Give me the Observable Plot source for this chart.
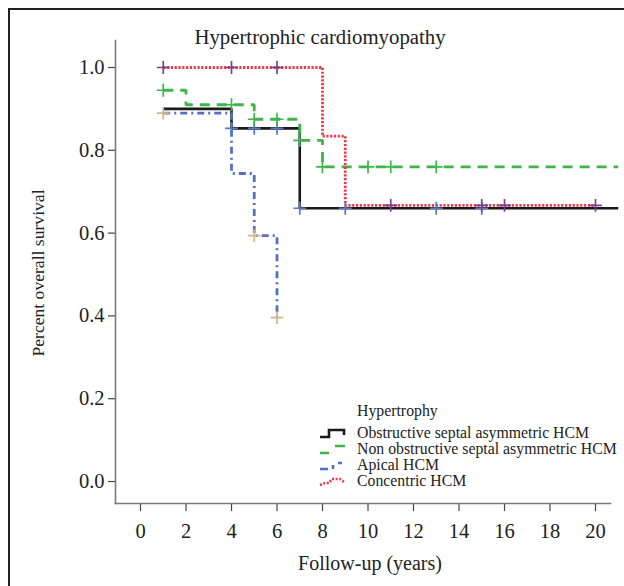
<!DOCTYPE html>
<html>
<head>
<meta charset="utf-8">
<script src="https://cdn.jsdelivr.net/npm/d3@7"></script>
<script src="https://cdn.jsdelivr.net/npm/@observablehq/plot@0.6"></script>
<style>
  html, body { margin: 0; padding: 0; background: #fff; overflow: hidden; }
  #wrap { position: relative; width: 624px; height: 586px; font-family: "Liberation Serif", serif; color: #222; }
  #frame { position: absolute; left: 8px; top: 8px; width: 800px; height: 800px; border-left: 2px solid #222; border-top: 2px solid #222; }
  #chart { position: absolute; left: 0; top: 0; }
  #chart svg g[aria-label$="tick label"] { font-size: 20.5px !important; }
  #legend { position: absolute; left: 319px; top: 403px; font-size: 15.8px; line-height: 16px; }
  #legend .ttl { margin-left: 38px; margin-bottom: 6px; }
  #legend .row { display: flex; align-items: center; height: 16px; }
  #legend svg { width: 30px; height: 12px; margin-right: 8px; }
</style>
</head>
<body>
<div id="wrap">
  <div id="frame"></div>
  <div id="chart"></div>
  <div id="legend"></div>
</div>
<script>
// ---- data ----
const groups = ["Obstructive septal asymmetric HCM", "Non obstructive septal asymmetric HCM", "Apical HCM", "Concentric HCM"];
const colors = ["#1a1a1a", "#3db54a", "#5470c0", "#ee3a48"];
const dashes = ["none", "10,7", "7,4,2,4", "2.2,1.6"];

const obstructiveTime = [1, 4, 7, 21];
const obstructiveSurv = [0.90, 0.853, 0.66, 0.66];
const nonObstructiveTime = [1, 2, 5, 7, 8, 21];
const nonObstructiveSurv = [0.945, 0.91, 0.875, 0.824, 0.76, 0.76];
const apicalTime = [1, 4, 5, 6];
const apicalSurv = [0.89, 0.744, 0.594, 0.396];
const concentricTime = [1, 8, 9, 20];
const concentricSurv = [1.0, 0.834, 0.667, 0.667];

// censor marks (colour per group as drawn in the figure)
const censorColors = ["#5878c4", "#3db54a", "#c9b98c", "#7a3f8e"];
const obstructiveCensorTime = [4, 5, 6, 7, 9, 13, 15];
const obstructiveCensorSurv = [0.853, 0.853, 0.853, 0.66, 0.66, 0.66, 0.66];
const nonObstructiveCensorTime = [1, 4, 5, 6, 7, 8, 10, 11, 13];
const nonObstructiveCensorSurv = [0.945, 0.91, 0.875, 0.875, 0.824, 0.76, 0.76, 0.76, 0.76];
const apicalCensorTime = [1, 5, 6];
const apicalCensorSurv = [0.89, 0.594, 0.396];
const concentricCensorTime = [1, 4, 6, 11, 15, 16, 20];
const concentricCensorSurv = [1.0, 1.0, 1.0, 0.667, 0.667, 0.667, 0.667];

const xTicks = [0, 2, 4, 6, 8, 10, 12, 14, 16, 18, 20];
const yTicks = [0, 0.2, 0.4, 0.6, 0.8, 1.0];

const title = "Hypertrophic cardiomyopathy";
const xLabel = "Follow-up (years)";
const yLabel = "Percent overall survival";
const legendTitle = "Hypertrophy";

// ---- build tables ----
const times = [obstructiveTime, nonObstructiveTime, apicalTime, concentricTime];
const survs = [obstructiveSurv, nonObstructiveSurv, apicalSurv, concentricSurv];
const cTimes = [obstructiveCensorTime, nonObstructiveCensorTime, apicalCensorTime, concentricCensorTime];
const cSurvs = [obstructiveCensorSurv, nonObstructiveCensorSurv, apicalCensorSurv, concentricCensorSurv];

const series = groups.map((g, i) => times[i].map((t, j) => ({group: g, t, s: survs[i][j]})));
const censor = groups.flatMap((g, i) => cTimes[i].map((t, j) => ({group: g, t, s: cSurvs[i][j], color: censorColors[i]})));

const axisColor = "#7a7a7a";

const plot = Plot.plot({
  width: 624,
  height: 586,
  marginLeft: 115,
  marginRight: 14,
  marginTop: 40,
  marginBottom: 83,
  style: {fontFamily: "Liberation Serif, serif", fontSize: "20px", color: "#222", background: "transparent", overflow: "visible"},
  x: {domain: [-1.099, 20.659]},
  y: {domain: [-0.0531, 1.0652]},
  marks: [
    Plot.axisX(xTicks, {tickSize: 8, tickPadding: 12, label: null, stroke: "#444", strokeWidth: 1.2}),
    Plot.axisY(yTicks, {tickSize: 7, tickPadding: 4, label: null, tickFormat: d3.format(".1f"), stroke: "#444", strokeWidth: 1.2}),
    Plot.frame({anchor: "left", stroke: axisColor, strokeWidth: 1.6}),
    Plot.frame({anchor: "bottom", stroke: axisColor, strokeWidth: 1.6}),
    ...series.map((d, i) => Plot.line(d, {
      x: "t", y: "s", curve: "step-after", stroke: colors[i],
      strokeWidth: i === 0 ? 2.6 : 2.8,
      strokeDasharray: dashes[i] === "none" ? null : dashes[i],
      strokeLinecap: "butt", strokeLinejoin: "miter",
      clip: false
    })),
    Plot.dot(censor, {x: "t", y: "s", symbol: "plus", r: 4.2, stroke: "color", strokeWidth: 1.7}),
    Plot.text([title], {frameAnchor: "top", lineAnchor: "middle", dx: -43, dy: -3, fontSize: 20.8, fill: "#222"}),
    Plot.text([xLabel], {frameAnchor: "bottom", lineAnchor: "middle", dx: 7, dy: 60, fontSize: 20, fill: "#222"}),
    Plot.text([yLabel], {frameAnchor: "left", textAnchor: "middle", lineAnchor: "middle", rotate: -90, dx: -77, dy: 1, fontSize: 17.6, fill: "#222"})
  ]
});
document.getElementById("chart").appendChild(plot);

// ---- legend ----
const legend = document.getElementById("legend");
const ttl = document.createElement("div");
ttl.className = "ttl";
ttl.textContent = legendTitle;
legend.appendChild(ttl);
const keyPaths = [
  "M1,10 H10 V3 H25 V8",
  "M1,10 H10 M16,3 H26",
  "M1,10 H9 M14,6 V10 M19,4 H23",
  "M1,10 L6,8 L10,8 L13,4 L21,4 L25,7"
];
groups.forEach((g, i) => {
  const row = document.createElement("div");
  row.className = "row";
  const ns = "http://www.w3.org/2000/svg";
  const svg = document.createElementNS(ns, "svg");
  svg.setAttribute("viewBox", "0 0 30 12");
  const p = document.createElementNS(ns, "path");
  p.setAttribute("d", keyPaths[i]);
  p.setAttribute("fill", "none");
  p.setAttribute("stroke", colors[i]);
  p.setAttribute("stroke-width", "2.6");
  if (i === 3) p.setAttribute("stroke-dasharray", "2,1.6");
  svg.appendChild(p);
  row.appendChild(svg);
  const span = document.createElement("span");
  span.textContent = g;
  row.appendChild(span);
  legend.appendChild(row);
});
</script>
</body>
</html>
